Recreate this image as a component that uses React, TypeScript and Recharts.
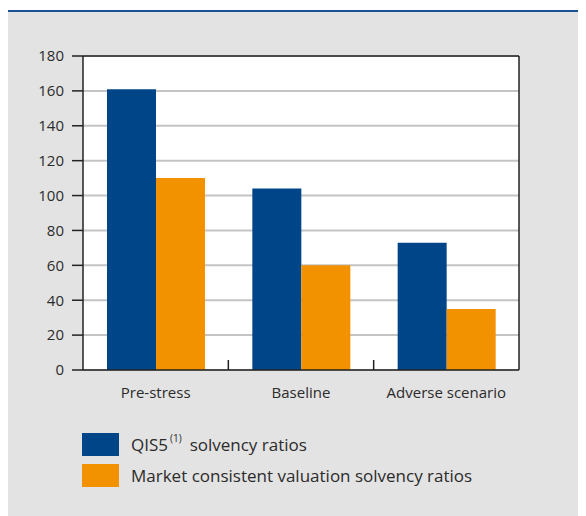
import React from "react";
import {
  BarChart,
  Bar,
  XAxis,
  YAxis,
  CartesianGrid,
  ReferenceLine,
} from "recharts";

const categories = ["Pre-stress", "Baseline", "Adverse scenario"];
const qis5Values = [161, 104, 73];
const mcvValues = [110, 60, 35];
const yTicks = [0, 20, 40, 60, 80, 100, 120, 140, 160, 180];

const BLUE = "#004587";
const ORANGE = "#f39200";
const TEXT = "#2b2b2b";
const AXIS = "#222";
const FONT = "'Open Sans', 'Noto Sans', sans-serif";

const data = categories.map((c, i) => ({
  name: c,
  qis5: qis5Values[i],
  mcv: mcvValues[i],
}));

const CategoryTick = (props: any) => {
  const { x, y, payload } = props;
  const axisY = y - 17;
  const off = payload && typeof payload.offset === "number" ? payload.offset : 0;
  return (
    <g>
      {payload.index > 0 && (
        <line
          x1={x - off}
          x2={x - off}
          y1={axisY}
          y2={axisY - 10}
          stroke={AXIS}
          strokeWidth={1.5}
        />
      )}
      <text
        x={x}
        y={y}
        dy="0.71em"
        textAnchor="middle"
        fill={TEXT}
        fontSize={15}
        fontFamily={FONT}
      >
        {payload.value}
      </text>
    </g>
  );
};

export default function App() {
  return (
    <div>
      <style>{"body{overflow:hidden}"}</style>
      <div
        style={{
          position: "relative",
          width: 578,
          height: 504,
          marginTop: 2,
          borderTop: "2px solid #1a5192",
          background: "#e3e3e3",
          fontFamily: FONT,
        }}
      >
        <BarChart
          width={578}
          height={410}
          data={data}
          margin={{ top: 44, right: 0, left: 0, bottom: 0 }}
          barCategoryGap={24}
          barGap={0}
        >
          <CartesianGrid
            vertical={false}
            stroke="#c4c4c4"
            strokeWidth={2}
            fill="#ffffff"
            yAxisId="left"
          />
          <XAxis
            dataKey="name"
            height={52}
            tickSize={0}
            tickMargin={17}
            tickLine={false}
            axisLine={{ stroke: AXIS, strokeWidth: 1.5 }}
            tick={<CategoryTick />}
            interval={0}
          />
          <YAxis
            yAxisId="left"
            orientation="left"
            width={75}
            domain={[0, 180]}
            ticks={yTicks}
            tickSize={11}
            tickMargin={8}
            axisLine={{ stroke: AXIS, strokeWidth: 1.5 }}
            tickLine={{ stroke: AXIS, strokeWidth: 1.5 }}
            tick={{ fill: TEXT, fontSize: 15, fontFamily: FONT }}
          />
          <YAxis
            yAxisId="right"
            orientation="right"
            width={67}
            domain={[0, 180]}
            ticks={yTicks}
            tickSize={11}
            tickMargin={7}
            axisLine={{ stroke: AXIS, strokeWidth: 1.5 }}
            tickLine={{ stroke: AXIS, strokeWidth: 1.5 }}
            tick={{ fill: TEXT, fontSize: 15, fontFamily: FONT, textAnchor: "start" }}
          />
          <Bar
            yAxisId="left"
            dataKey="qis5"
            fill={BLUE}
            isAnimationActive={false}
          />
          <Bar
            yAxisId="left"
            dataKey="mcv"
            fill={ORANGE}
            isAnimationActive={false}
          />
          <ReferenceLine
            yAxisId="left"
            y={180}
            stroke={AXIS}
            strokeWidth={1.5}
            ifOverflow="extendDomain"
          />
        </BarChart>
        <div
          style={{
            position: "absolute",
            left: 74,
            top: 421,
            color: TEXT,
            fontSize: 17,
          }}
        >
          <div style={{ display: "flex", alignItems: "center", height: 23 }}>
            <div style={{ width: 37, height: 23, background: BLUE }} />
            <span style={{ marginLeft: 12, whiteSpace: "nowrap" }}>
              QIS5
              <sup style={{ fontSize: 10, marginLeft: 2, marginRight: 8, position: "relative", top: -2 }}>
                (1)
              </sup>
              solvency ratios
            </span>
          </div>
          <div
            style={{
              display: "flex",
              alignItems: "center",
              height: 23,
              marginTop: 8,
            }}
          >
            <div style={{ width: 37, height: 23, background: ORANGE }} />
            <span style={{ marginLeft: 12, whiteSpace: "nowrap" }}>
              Market consistent valuation solvency ratios
            </span>
          </div>
        </div>
      </div>
    </div>
  );
}
